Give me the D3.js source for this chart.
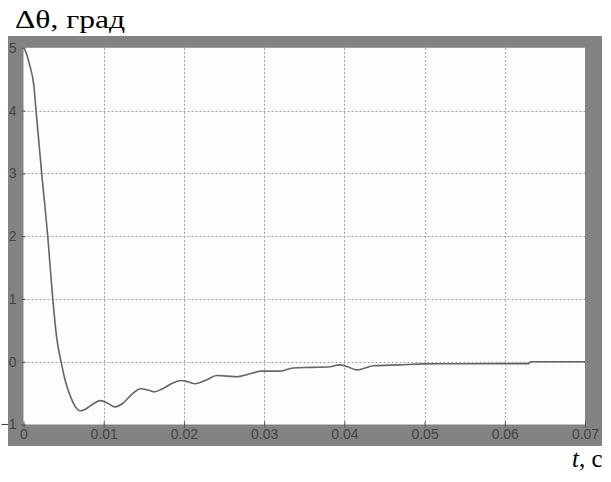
<!DOCTYPE html>
<html>
<head>
<meta charset="utf-8">
<script src="https://cdn.jsdelivr.net/npm/d3@7"></script>
<style>
  html, body { margin: 0; padding: 0; background: #fff; }
  svg { display: block; }
  .cap { font-family: "Liberation Serif", "Times New Roman", Times, serif; }
</style>
</head>
<body>
<svg id="chart" width="611" height="482"></svg>
<script>
// Transient of the angle deviation Δθ (degrees) over time t (s)
const timeS = [0, 0.0002, 0.0008, 0.0013, 0.00156, 0.00227, 0.00302, 0.00365, 0.00414, 0.00468,
  0.0052, 0.006, 0.0066, 0.0071, 0.0078, 0.0087, 0.0096, 0.0105, 0.0114, 0.0123, 0.0135, 0.0146,
  0.0155, 0.0163, 0.0172, 0.0186, 0.0197, 0.0205, 0.0214, 0.0228, 0.0241, 0.0254, 0.0266, 0.028,
  0.0297, 0.032, 0.0336, 0.036, 0.0382, 0.0394, 0.0404, 0.0415, 0.0426, 0.0436, 0.0469, 0.05,
  0.055, 0.063, 0.0632, 0.07];
const deltaTheta = [5, 4.96, 4.71, 4.39, 4.0, 3.0, 2.0, 1.0, 0.38, 0,
  -0.3, -0.6, -0.74, -0.78, -0.75, -0.67, -0.62, -0.66, -0.72, -0.67, -0.52, -0.43,
  -0.45, -0.48, -0.44, -0.34, -0.3, -0.32, -0.35, -0.29, -0.22, -0.23, -0.24, -0.2,
  -0.15, -0.15, -0.1, -0.09, -0.08, -0.05, -0.08, -0.13, -0.1, -0.065, -0.05, -0.035,
  -0.032, -0.03, 0, 0];
const xTicks = [0, 0.01, 0.02, 0.03, 0.04, 0.05, 0.06, 0.07];
const yTicks = [-1, 0, 1, 2, 3, 4, 5];

const svg = d3.select("#chart");

const x = d3.scaleLinear().domain([0, 0.07]).range([23.5, 585]);
const y = d3.scaleLinear().domain([-1, 5]).range([424.5, 47.8]);

// gray frame around the plot
svg.append("rect")
  .attr("x", 8).attr("y", 36).attr("width", 594).attr("height", 410)
  .attr("fill", "#838383");
svg.append("rect")
  .attr("x", x(0)).attr("y", y(5))
  .attr("width", x(0.07) - x(0)).attr("height", y(-1) - y(5))
  .attr("fill", "#fdfdfd");

// dotted grid
const grid = svg.append("g").attr("stroke", "#a0a0a0").attr("stroke-width", 1)
  .attr("stroke-dasharray", "2,2").attr("fill", "none");
grid.selectAll("line.v").data(xTicks.slice(1, -1)).join("line")
  .attr("x1", d => Math.round(x(d)) + 0.5).attr("x2", d => Math.round(x(d)) + 0.5)
  .attr("y1", y(5)).attr("y2", y(-1));
grid.selectAll("line.h").data(yTicks.slice(1, -1)).join("line")
  .attr("x1", x(0)).attr("x2", x(0.07))
  .attr("y1", d => Math.round(y(d)) + 0.5).attr("y2", d => Math.round(y(d)) + 0.5);

// axes with ticks crossing the frame edge
const tickFont = "'Liberation Sans Narrow', 'Arial Narrow', sans-serif";
const xAxis = svg.append("g")
  .attr("transform", `translate(0,${y(-1)})`)
  .call(d3.axisBottom(x).tickValues(xTicks).tickFormat(d => d === 0 ? "0" : d3.format(".2f")(d))
    .tickSizeInner(-6).tickSizeOuter(0).tickPadding(12));
xAxis.select(".domain").remove();
xAxis.selectAll("line").attr("stroke", "#555").attr("transform", "translate(0,3)");
xAxis.selectAll("text").attr("fill", "#444").attr("font-size", 14)
  .attr("font-family", tickFont).attr("dy", "0.72em").attr("y", 4);

const yAxis = svg.append("g")
  .attr("transform", `translate(${x(0)},0)`)
  .call(d3.axisLeft(y).tickValues(yTicks).tickFormat(d3.format("d"))
    .tickSizeInner(4).tickSizeOuter(0).tickPadding(2));
yAxis.select(".domain").remove();
yAxis.selectAll("line").attr("stroke", "#555").attr("transform", "translate(2,0)");
yAxis.selectAll("text").attr("fill", "#444").attr("font-size", 14)
  .attr("font-family", tickFont).attr("x", -7);

// the response curve
const line = d3.line()
  .x((d, i) => x(timeS[i]))
  .y(d => y(d))
  .curve(d3.curveMonotoneX);
svg.append("path")
  .datum(deltaTheta)
  .attr("d", line)
  .attr("fill", "none")
  .attr("stroke", "#666")
  .attr("stroke-width", 1.6);

// axis captions
svg.append("text")
  .attr("class", "cap")
  .attr("x", 15).attr("y", 28)
  .attr("font-size", 25).attr("fill", "#000")
  .attr("textLength", 110).attr("lengthAdjust", "spacingAndGlyphs")
  .text("Δθ, град");
const tLabel = svg.append("text")
  .attr("class", "cap")
  .attr("x", 572).attr("y", 467)
  .attr("font-size", 25).attr("fill", "#000");
tLabel.append("tspan").attr("font-style", "italic").text("t");
tLabel.append("tspan").text(", с");
</script>
</body>
</html>
